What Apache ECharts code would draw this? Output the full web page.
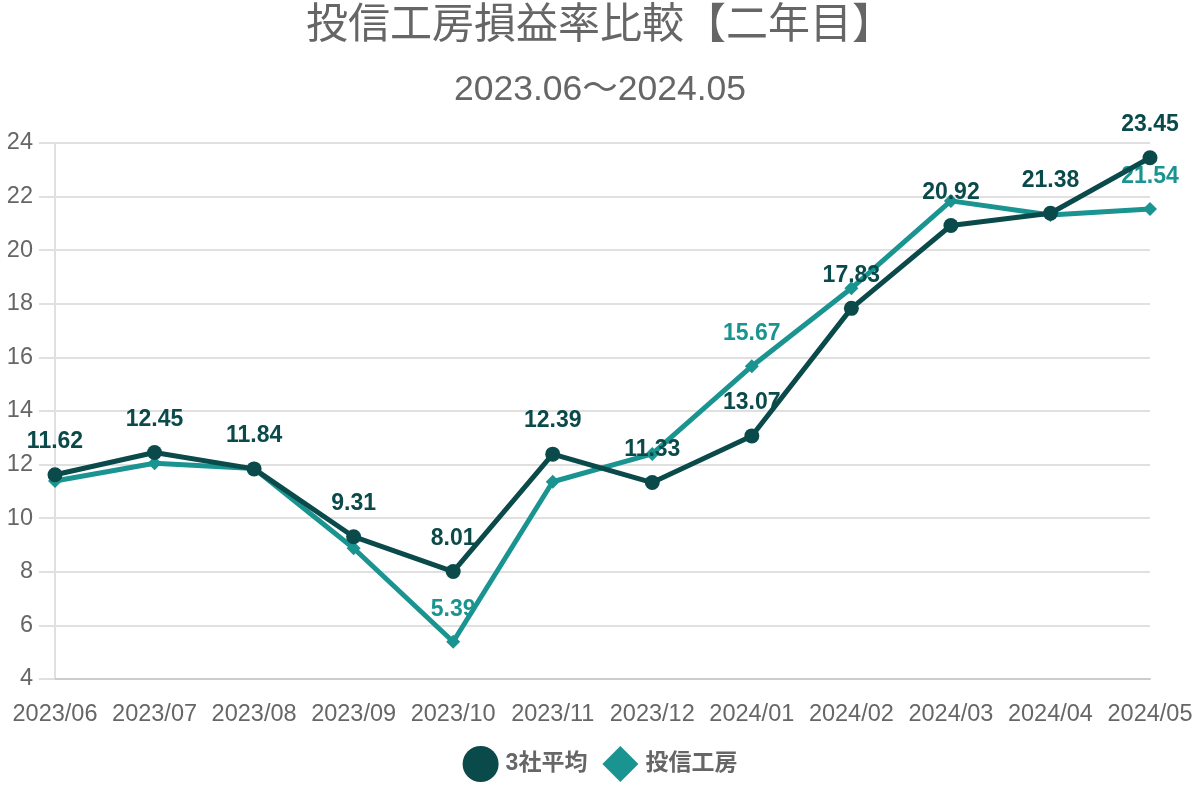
<!DOCTYPE html>
<html>
<head>
<meta charset="utf-8">
<script src="https://cdn.jsdelivr.net/npm/echarts@6/dist/echarts.min.js"></script>
<style>html,body{margin:0;padding:0;background:#fff;}#c{width:1200px;height:800px;}</style>
</head>
<body>
<div id="c"></div>
<script>
var categories = ['2023/06','2023/07','2023/08','2023/09','2023/10','2023/11','2023/12','2024/01','2024/02','2024/03','2024/04','2024/05'];
var avg3 = [11.62, 12.45, 11.84, 9.31, 8.01, 12.39, 11.33, 13.07, 17.83, 20.92, 21.38, 23.45];
var toushin = [11.39, 12.05, 11.85, 8.88, 5.39, 11.36, 12.40, 15.67, 18.58, 21.84, 21.31, 21.54];
var toushinLabelIdx = [4, 7, 11];
var yTicks = [4, 6, 8, 10, 12, 14, 16, 18, 20, 22, 24];

var FONT = '"Liberation Sans", "Noto Sans CJK JP", sans-serif';
var DARK = '#0b4a4a';
var TEAL = '#1a9490';

var toushinData = toushin.map(function (v, i) {
  return { value: v, label: { show: toushinLabelIdx.indexOf(i) >= 0 } };
});

var chart = echarts.init(document.getElementById('c'));
chart.setOption({
  backgroundColor: '#fff',
  textStyle: { fontFamily: FONT },
  title: [
    { text: '投信工房損益率比較【二年目】', left: 'center', top: 0,
      textStyle: { fontFamily: FONT, fontSize: 42, fontWeight: 'normal', color: '#666' } },
    { text: '2023.06～2024.05', left: 'center', top: 67,
      textStyle: { fontFamily: FONT, fontSize: 35.5, fontWeight: 'normal', color: '#666' } }
  ],
  legend: {
    data: [{ name: '3社平均', icon: 'circle' }, { name: '投信工房', icon: 'diamond' }],
    bottom: 13, left: 'center',
    itemWidth: 36, itemHeight: 36, itemGap: 15,
    textStyle: { fontFamily: FONT, fontSize: 23, fontWeight: 'bold', color: '#666', padding: [0,0,0,2] }
  },
  grid: { left: 55, right: 50, top: 143, bottom: 121, containLabel: false },
  xAxis: {
    type: 'category', data: categories, boundaryGap: false,
    axisLine: { lineStyle: { color: '#ccc', width: 2 } },
    axisTick: { show: false },
    axisLabel: { color: '#666', fontSize: 23.5, margin: 24, fontFamily: FONT, interval: 0 }
  },
  yAxis: {
    type: 'value', min: yTicks[0], max: yTicks[yTicks.length - 1], interval: 2,
    axisLine: { show: true, lineStyle: { color: '#e0e0e0', width: 2 } },
    axisTick: { show: true, length: 16, lineStyle: { color: '#e0e0e0', width: 2 } },
    axisLabel: { color: '#666', fontSize: 23.5, margin: 22, fontFamily: FONT },
    splitLine: { lineStyle: { color: '#e0e0e0', width: 2 } }
  },
  series: [
    {
      name: '投信工房', type: 'line', data: toushinData,
      symbol: 'diamond', symbolSize: 14, z: 2,
      lineStyle: { color: TEAL, width: 5 },
      itemStyle: { color: TEAL },
      label: { position: 'top', distance: 14, color: TEAL, fontSize: 23, fontWeight: 'bold', fontFamily: FONT }
    },
    {
      name: '3社平均', type: 'line', data: avg3,
      symbol: 'circle', symbolSize: 15, z: 3,
      lineStyle: { color: DARK, width: 5 },
      itemStyle: { color: DARK },
      label: { show: true, position: 'top', distance: 14, color: DARK, fontSize: 23, fontWeight: 'bold', fontFamily: FONT,
        formatter: function (p) { return p.value.toFixed(2); } }
    }
  ],
  animation: false
});
</script>
</body>
</html>
